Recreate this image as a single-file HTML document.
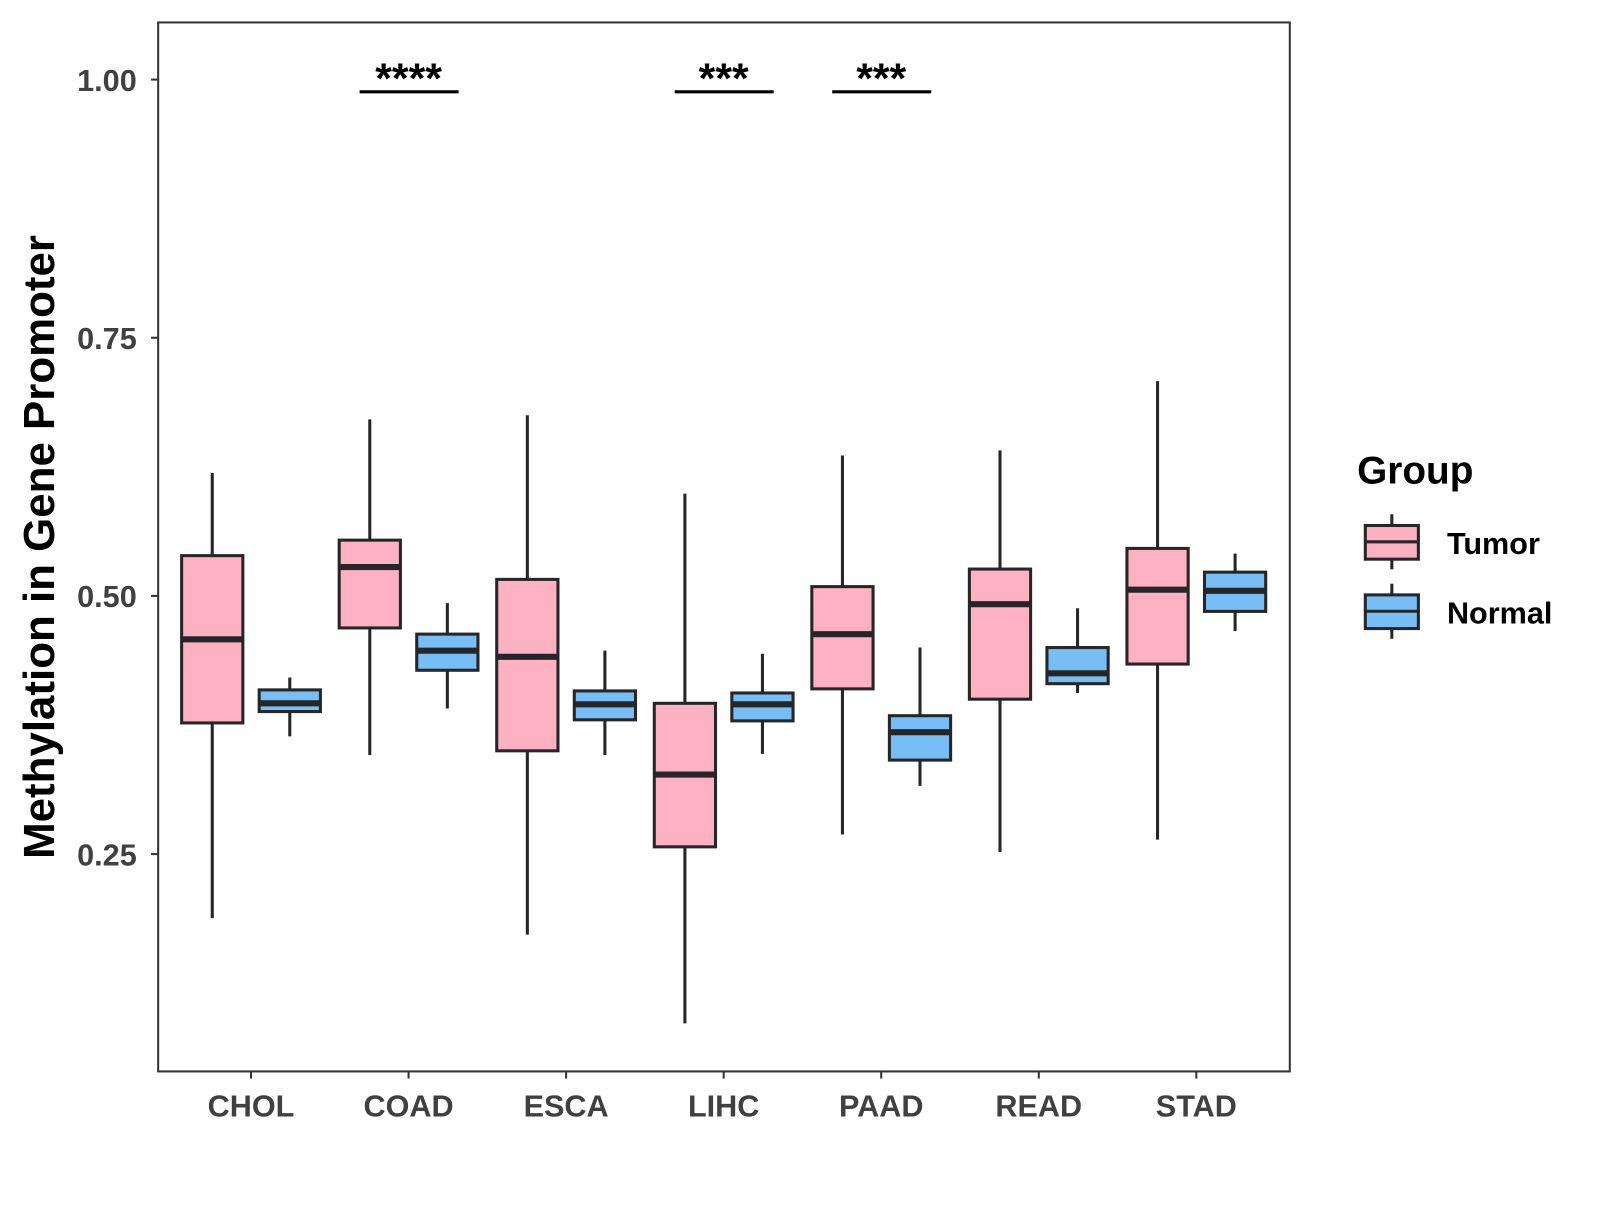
<!DOCTYPE html>
<html><head><meta charset="utf-8"><style>
body{margin:0;background:#fff}
svg text{font-family:"Liberation Sans",Arial,sans-serif;font-weight:bold}
</style></head><body>
<svg id="chart" width="1600" height="1200" viewBox="0 0 1568 1176" xmlns="http://www.w3.org/2000/svg">
<rect x="155" y="22" width="1109" height="1028" fill="#fff" stroke="#333" stroke-width="2"/>
<g id="marks"></g>
<text transform="translate(53,536) rotate(-90)" text-anchor="middle" font-size="43" fill="#000">Methylation in Gene Promoter</text>
<g>
<text x="1330" y="474" font-size="38" fill="#000">Group</text>
<g>
<line x1="1364" y1="504" x2="1364" y2="558" stroke="#262626" stroke-width="3"/>
<rect x="1338" y="515" width="52" height="33" fill="#FDB1C2" stroke="#262626" stroke-width="3"/>
<line x1="1338" y1="531" x2="1390" y2="531" stroke="#262626" stroke-width="3"/>
<text x="1418" y="543" font-size="30" fill="#000">Tumor</text></g>
<g>
<line x1="1364" y1="572" x2="1364" y2="626" stroke="#262626" stroke-width="3"/>
<rect x="1338" y="583" width="52" height="33" fill="#76BEF5" stroke="#262626" stroke-width="3"/>
<line x1="1338" y1="599" x2="1390" y2="599" stroke="#262626" stroke-width="3"/>
<text x="1418" y="611" font-size="30" fill="#000">Normal</text></g>
</g>
</svg>
<script>
const categories=["CHOL","COAD","ESCA","LIHC","PAAD","READ","STAD"];
const tumorStats=[[0.188,0.377,0.458,0.539,0.619],[0.346,0.469,0.528,0.554,0.671],[0.172,0.350,0.441,0.516,0.675],[0.086,0.257,0.327,0.396,0.599],[0.269,0.410,0.463,0.509,0.636],[0.252,0.400,0.492,0.526,0.641],[0.264,0.434,0.506,0.546,0.708]];
const normalStats=[[0.364,0.388,0.396,0.409,0.421],[0.391,0.428,0.447,0.463,0.493],[0.346,0.380,0.395,0.408,0.447],[0.347,0.379,0.395,0.406,0.444],[0.316,0.341,0.368,0.384,0.450],[0.406,0.415,0.425,0.450,0.488],[0.466,0.485,0.505,0.523,0.541]];
const yTicks=[0.25,0.50,0.75,1.00];
const yTickLabels=["0.25","0.50","0.75","1.00"];
const sigLabels=["","****","","***","***","",""];
const NS="http://www.w3.org/2000/svg";
const g=document.getElementById("marks");
const yS=v=>78+(1-v)*1012;
const xS=i=>246+i*154.4;
function mk(tag,attrs){const e=document.createElementNS(NS,tag);for(const k in attrs)e.setAttribute(k,attrs[k]);g.appendChild(e);return e;}
yTicks.forEach((v,i)=>{
 const t=mk("line",{x1:148,x2:155,y1:yS(v),y2:yS(v),stroke:"#333","stroke-width":2});
 
 
 const l=mk("text",{x:134,y:yS(v)+11,"text-anchor":"end","font-size":30,fill:"#404040"});
 l.textContent=yTickLabels[i];
 
 
});
function box(cx,s,fill,name){
 const w=60;
 const wl=mk("line",{x1:cx,x2:cx,y1:yS(s[4]),y2:yS(s[0]),stroke:"#262626","stroke-width":3});
 
 
 const r=mk("rect",{x:cx-w/2,y:yS(s[3]),width:w,height:yS(s[1])-yS(s[3]),fill:fill,stroke:"#262626","stroke-width":3});
 
 
 const m=mk("line",{x1:cx-w/2,x2:cx+w/2,y1:yS(s[2]),y2:yS(s[2]),stroke:"#262626","stroke-width":6});
 
 
}
categories.forEach((c,i)=>{
 const cx=xS(i);
 box(cx-38,tumorStats[i],"#FDB1C2",c.toLowerCase()+"-tumor");
 box(cx+38,normalStats[i],"#76BEF5",c.toLowerCase()+"-normal");
 const t=mk("line",{x1:cx,x2:cx,y1:1050,y2:1057,stroke:"#333","stroke-width":2});
 
 
 const l=mk("text",{x:cx,y:1094,"text-anchor":"middle","font-size":30,fill:"#404040"});
 l.textContent=c;
 
 
 if(sigLabels[i]){
  const b=mk("line",{x1:cx-48,x2:cx+49,y1:90,y2:90,stroke:"#000","stroke-width":3});
  
  
  const s=mk("text",{x:cx,y:91,"text-anchor":"middle","font-size":42,fill:"#000"});
  s.textContent=sigLabels[i];
  
  
 }
});
</script>
</body></html>
